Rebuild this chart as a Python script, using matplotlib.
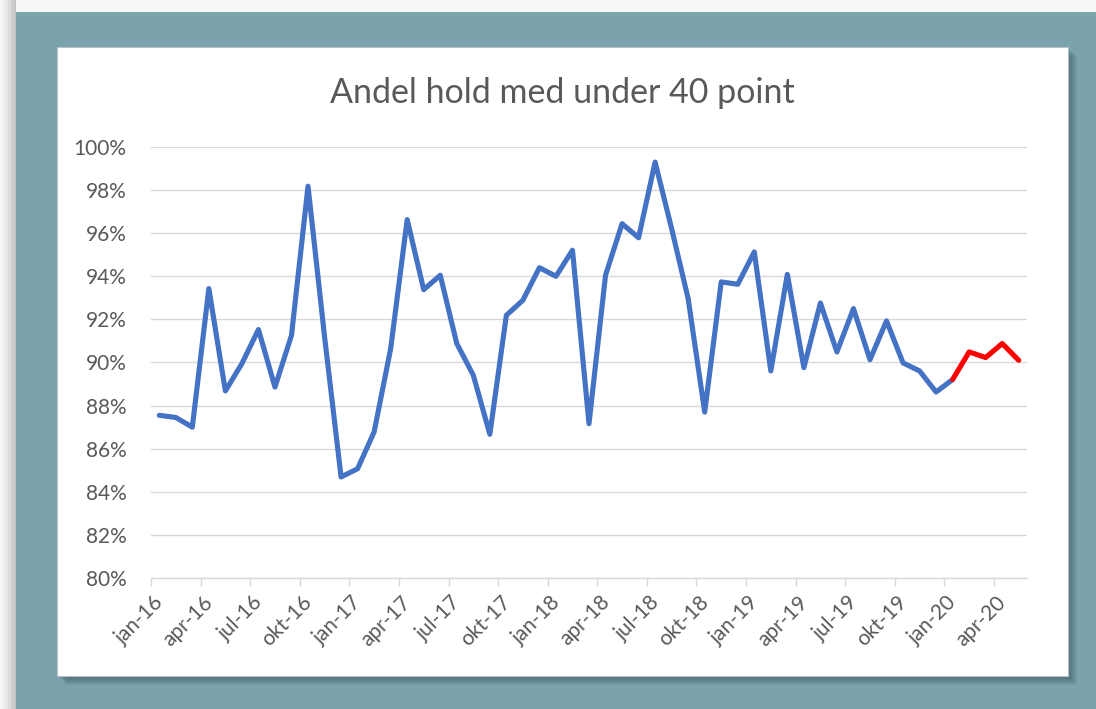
import matplotlib.pyplot as plt
from matplotlib.patches import Rectangle
from matplotlib.ticker import FixedLocator, PercentFormatter
from matplotlib.transforms import ScaledTranslation

# månedlige kategorier jan-16 .. maj-20
maaneder = ['jan', 'feb', 'mar', 'apr', 'maj', 'jun', 'jul', 'aug', 'sep', 'okt', 'nov', 'dec']
aar = ['16', '17', '18', '19', '20']
kategorier = [m + '-' + a for a in aar for m in maaneder][:53]

# andel hold med under 40 point (%)
andel = [87.55, 87.45, 87.0, 93.43, 88.68, 89.95, 91.53, 88.86, 91.26, 98.18,
         91.2, 84.69, 85.07, 86.78, 90.64, 96.63, 93.38, 94.05, 90.88, 89.41,
         86.67, 92.19, 92.89, 94.4, 94.0, 95.21, 87.16, 94.05, 96.44, 95.79,
         99.3, 96.21, 92.96, 87.7, 93.74, 93.63, 95.13, 89.61, 94.09, 89.76,
         92.76, 90.49, 92.5, 90.13, 91.93, 89.98, 89.61, 88.63, 89.21, 90.49,
         90.23, 90.88, 90.1]
start_2020 = kategorier.index('jan-20')  # rød del fra jan-20

W, H = 1096, 709
fig = plt.figure(figsize=(W / 100, H / 100), dpi=100)
fig.patch.set_facecolor('#7ba3ab')

def box(x0, y0, x1, y1, **kw):
    # pixel-koordinater (top-venstre origo) -> figur-koordinater
    fig.add_artist(Rectangle((x0 / W, 1 - y1 / H), (x1 - x0) / W, (y1 - y0) / H,
                             transform=fig.transFigure, zorder=-10, **kw))

# lys kant øverst og til venstre
box(0, 0, W, 12, facecolor='#f7f7f7', edgecolor='none')
for i, c in enumerate(['#f6f6f6', '#f0f0f0', '#e8e8e8', '#dcdcdc', '#cfcfcf', '#c4c4c4']):
    box(i * 2.7, 0, i * 2.7 + 2.7, H, facecolor=c, edgecolor='none')

# skygge under hvid boks
for k in range(1, 10):
    box(57 + k, 47 + k, 1068 + k, 676 + k, facecolor='#2f4a52', edgecolor='none', alpha=0.075)
box(57, 47, 1068, 676, facecolor='white', edgecolor='#b8c0c8', linewidth=0.8)

ax = fig.add_axes([151 / W, 1 - 578 / H, (1027 - 151) / W, (578 - 147) / H])
ax.set_facecolor('none')

x = list(range(len(andel)))
ax.plot(x[:start_2020 + 1], andel[:start_2020 + 1], color='#4472c4', lw=3.7,
        solid_joinstyle='round', solid_capstyle='round', zorder=3)
ax.plot(x[start_2020:], andel[start_2020:], color='#ff0000', lw=3.7,
        solid_joinstyle='round', solid_capstyle='round', zorder=3)

ax.set_xlim(-0.5, len(andel) - 0.5)
ax.set_ylim(80, 100)
ax.set_yticks(range(80, 101, 2))
ax.yaxis.set_major_formatter(PercentFormatter(decimals=0))
ax.grid(axis='y', color='#d9d9d9', lw=1)
ax.set_axisbelow(True)

pos = list(range(0, len(andel), 3))
ax.set_xticks(pos)
ax.set_xticklabels([kategorier[i] for i in pos], rotation=45, ha='right',
                   va='top', rotation_mode='anchor')
ax.xaxis.set_minor_locator(FixedLocator([p - 0.5 for p in pos]))
ax.tick_params(axis='x', which='major', length=0, pad=10, labelsize=15, labelcolor='#595959')
ax.tick_params(axis='x', which='minor', length=6, color='#d9d9d9', width=1)
ax.tick_params(axis='y', length=0, pad=17.5, labelsize=15, labelcolor='#595959')

for s in ['top', 'right', 'left']:
    ax.spines[s].set_visible(False)
ax.spines['bottom'].set_color('#d9d9d9')
ax.spines['bottom'].set_linewidth(1)

fig.text(562 / W, 1 - 93 / H, 'Andel hold med under 40 point', ha='center', va='center',
         fontsize=24.5, color='#595959', family=['Lato', 'DejaVu Sans'])

for t in ax.get_xticklabels() + ax.get_yticklabels():
    t.set_family(['Lato', 'DejaVu Sans'])

# flyt x-etiketter lidt til venstre (efter første tegning, så ticks findes)
fig.canvas.draw()
skift = ScaledTranslation(-6 / 100, 0, fig.dpi_scale_trans)
for tick in ax.xaxis.get_major_ticks():
    tick.label1.set_transform(tick.label1.get_transform() + skift)

fig.savefig('out.png', dpi=100, facecolor=fig.get_facecolor())
